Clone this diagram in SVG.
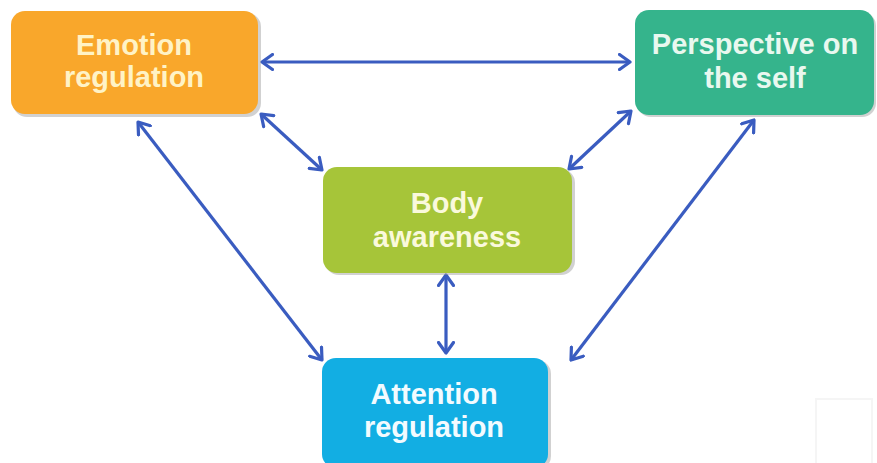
<svg xmlns="http://www.w3.org/2000/svg" width="877" height="463" viewBox="0 0 877 463">
<style>
.lbl{font-family:"Liberation Sans",Arial,sans-serif;font-weight:bold;font-size:29px;text-anchor:middle}
.box{stroke:none}
.shadow{fill:#9a9a9a;opacity:0.45}
.conn{stroke:#3A5CC0;stroke-width:3.2;fill:none;marker-start:url(#ah);marker-end:url(#ah)}
</style>
<defs>
<marker id="ah" viewBox="0 0 14 18" refX="12" refY="9" markerWidth="14" markerHeight="18" markerUnits="userSpaceOnUse" orient="auto-start-reverse">
<path d="M1.5,1.5 L12,9 L1.5,16.5" fill="none" stroke="#3A5CC0" stroke-width="3.2" stroke-linecap="round" stroke-linejoin="round"/>
</marker>
</defs>
<rect x="0" y="0" width="877" height="463" fill="#ffffff"/>
<rect x="816" y="399" width="56" height="70" fill="none" stroke="#f5f5f5" stroke-width="2"/>
<g id="connectors">
<line class="conn" x1="262" y1="62" x2="630" y2="62"/>
<line class="conn" x1="261" y1="114" x2="322" y2="170"/>
<line class="conn" x1="631" y1="111" x2="569" y2="169"/>
<line class="conn" x1="138" y1="122" x2="322" y2="360"/>
<line class="conn" x1="754" y1="120" x2="571" y2="360"/>
<line class="conn" x1="446" y1="275" x2="446" y2="353"/>
</g>
<g id="emotion">
<rect class="shadow" x="13" y="13" width="248" height="104" rx="14"/>
<rect class="box" x="11" y="11" width="247" height="103" rx="14" fill="#F9A72B"/>
<text class="lbl" x="134" y="55" fill="#FFF3C6">Emotion</text>
<text class="lbl" x="134" y="87" fill="#FFF3C6">regulation</text>
</g>
<g id="perspective">
<rect class="shadow" x="637" y="12" width="239" height="105" rx="14"/>
<rect class="box" x="635" y="10" width="239" height="105" rx="14" fill="#35B48C"/>
<text class="lbl" x="755" y="54" fill="#E9F8EF">Perspective on</text>
<text class="lbl" x="755" y="88" fill="#E9F8EF">the self</text>
</g>
<g id="body">
<rect class="shadow" x="325" y="169" width="250" height="106" rx="14"/>
<rect class="box" x="323" y="167" width="249" height="106" rx="14" fill="#A6C539"/>
<text class="lbl" x="447" y="213" fill="#FAF9DC">Body</text>
<text class="lbl" x="447" y="247" fill="#FAF9DC">awareness</text>
</g>
<g id="attention">
<rect class="shadow" x="324" y="360" width="227" height="110" rx="14"/>
<rect class="box" x="322" y="358" width="226" height="110" rx="14" fill="#12AEE3"/>
<text class="lbl" x="434" y="404" fill="#F2FBFF">Attention</text>
<text class="lbl" x="434" y="437" fill="#F2FBFF">regulation</text>
</g>
</svg>
